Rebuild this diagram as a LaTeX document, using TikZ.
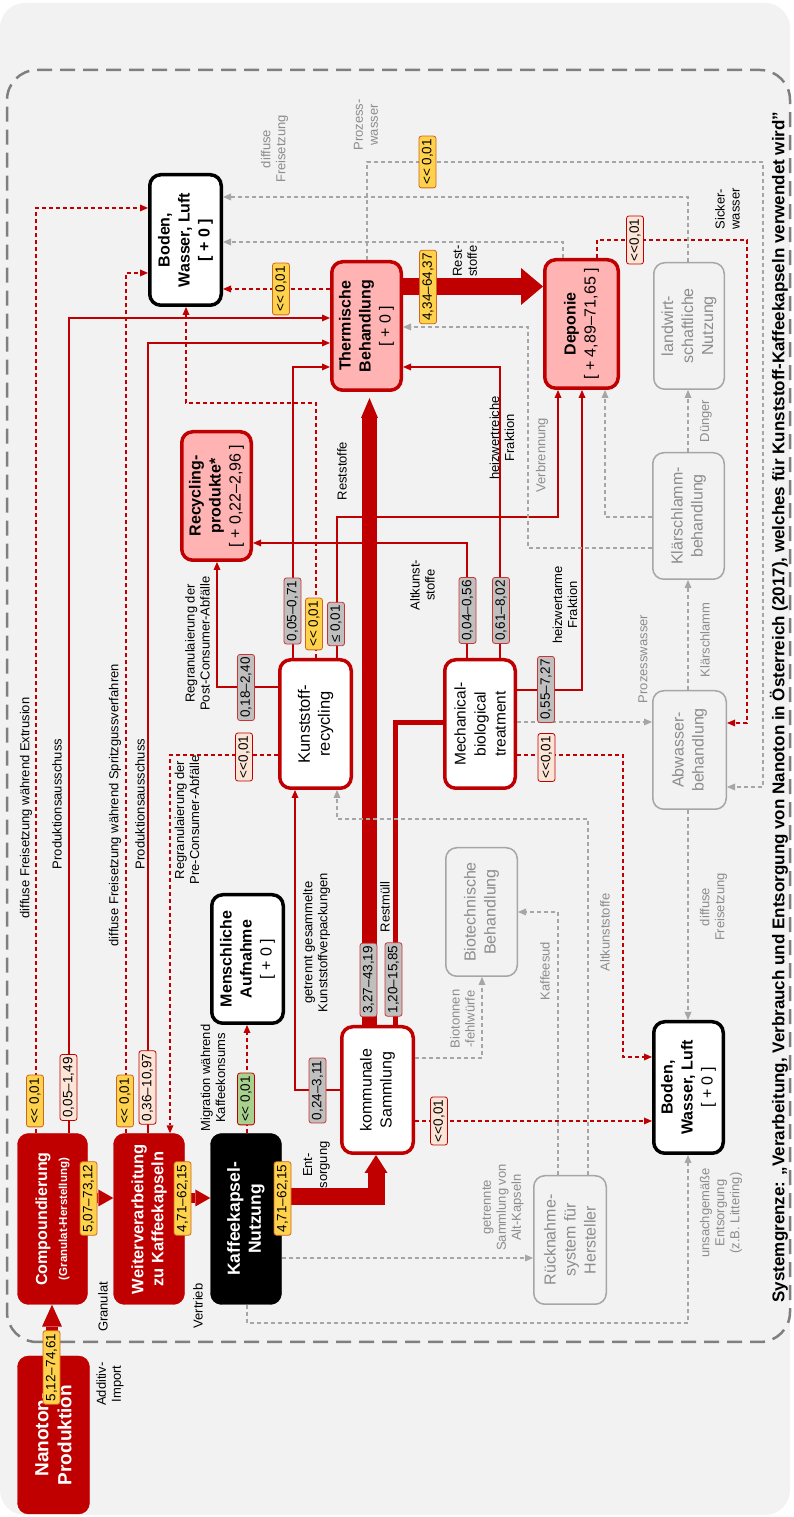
\documentclass[tikz,border=0pt]{standalone}
\usepackage{fontspec}
\setmainfont{Liberation Sans}
\usetikzlibrary{arrows.meta}
\definecolor{dred}{HTML}{C00000}
\definecolor{lpink}{HTML}{FFB3B3}
\definecolor{bgray}{HTML}{F2F2F2}
\definecolor{lgray}{HTML}{A6A6A6}
\definecolor{tgray}{HTML}{8C8C8C}
\definecolor{vyel}{HTML}{FFD24D}
\definecolor{vyelb}{HTML}{D0661E}
\definecolor{vpch}{HTML}{FCE4D6}
\definecolor{vgry}{HTML}{BFBFBF}
\definecolor{vgrn}{HTML}{A9D18E}
\definecolor{bnd}{HTML}{7F7F7F}
\begin{document}
\begin{tikzpicture}[x=1pt, y=-1pt, rotate=90, transform shape,
    box/.style={rounded corners=11pt, align=center, inner sep=2pt, font=\bfseries\fontsize{16}{20}\selectfont},
    redbox/.style={box, fill=dred, draw=dred, text=white},
    pinkbox/.style={box, fill=lpink, draw=dred, line width=3.5pt},
    whitebox/.style={box, fill=white, draw=dred, line width=3.5pt, font=\fontsize{16}{20}\selectfont},
    envbox/.style={box, fill=white, draw=black, line width=3.5pt},
    graybox/.style={box, draw=lgray, line width=1.5pt, text=tgray, font=\fontsize{16}{20}\selectfont},
    val/.style={rounded corners=2.5pt, inner xsep=3pt, inner ysep=1pt, minimum height=17pt, line width=0.8pt, font=\fontsize{13.5}{14}\selectfont},
    yel/.style={val, fill=vyel, draw=vyelb},
    pch/.style={val, fill=vpch, draw=dred},
    gry/.style={val, fill=vgry, draw=dred!80},
    grn/.style={val, fill=vgrn, draw=dred},
    ann/.style={align=center, font=\fontsize{13}{15}\selectfont},
    gann/.style={ann, text=tgray},
    rline/.style={draw=dred, line width=1.5pt, -{Triangle[length=8pt,width=7pt,line width=0pt]}},
    rdash/.style={rline, dash pattern=on 4pt off 3pt},
    gdash/.style={draw=lgray, line width=1.3pt, dash pattern=on 4pt off 3pt, -{Triangle[length=8pt,width=7pt,line width=0pt]}},
    flow/.style={draw=dred, line cap=butt}
  ]
  \useasboundingbox (0,0) rectangle (1517,793);
  \fill[bgray, rounded corners=25pt] (2,0) rectangle (1514,790);
  \draw[bnd, line width=2.5pt, dash pattern=on 15pt off 8pt, rounded corners=30pt] (175,7) rectangle (1447,790);

  \node[redbox, minimum width=158, minimum height=72, font=\bfseries\fontsize{19}{23}\selectfont] (NP) at (82,53.5) {Nanoton-\\Produktion};
  \node[redbox, minimum width=171, minimum height=70] (CP) at (298,52.5) {Compoundierung\\{\fontsize{11.5}{14}\selectfont (Granulat-Herstellung)}};
  \node[redbox, minimum width=171, minimum height=71, font=\bfseries\fontsize{16.5}{20}\selectfont] (WV) at (298,149) {Weiterverarbeitung\\zu Kaffeekapseln};
  \node[redbox, fill=black, draw=black, minimum width=171, minimum height=71, font=\bfseries\fontsize{17.5}{21}\selectfont] (KN) at (298,246) {Kaffeekapsel-\\Nutzung};
  \node[envbox, minimum width=128.5, minimum height=71.5] (MA) at (558,247.5) {Menschliche\\Aufnahme\\{\mdseries [ + 0 ]}};
  \node[whitebox, minimum width=126.5, minimum height=71.5] (KS) at (427,377.5) {kommunale\\Sammlung};
  \node[whitebox, minimum width=128.5, minimum height=71.5, font=\fontsize{16.5}{20}\selectfont] (KR) at (793,315.5) {Kunststoff-\\recycling};
  \node[whitebox, minimum width=128.5, minimum height=70.5, font=\fontsize{15.5}{20}\selectfont] (MB) at (793,480) {Mechanical-\\biological\\treatment};
  \node[pinkbox, minimum width=128.5, minimum height=69.5] (RP) at (1021,216.5) {Recycling-\\produkte*\\{\mdseries [ + 0,22–2,96 ]}};
  \node[pinkbox, minimum width=128.5, minimum height=69.5] (TB) at (1191,366.5) {Thermische\\Behandlung\\{\mdseries [ + 0 ]}};
  \node[pinkbox, minimum width=128.5, minimum height=73.5] (DP) at (1193,581.5) {Deponie\\{\mdseries [ + 4,89–71,65 ]}};
  \node[envbox, minimum width=130.5, minimum height=71.5] (BO) at (1277,185.5) {Boden,\\Wasser, Luft\\{[ + 0 ]}};
  \node[envbox, minimum width=131.5, minimum height=69.5] (BU) at (429.5,688.5) {Boden,\\Wasser, Luft\\{\mdseries [ + 0 ]}};
  \node[graybox, minimum width=128.5, minimum height=71.5] (BT) at (605,481.5) {Biotechnische\\Behandlung};
  \node[graybox, minimum width=128.5, minimum height=72.5] (RS) at (277,570) {Rücknahme-\\system für\\Hersteller};
  \node[graybox, minimum width=118.5, minimum height=73.5] (AW) at (767,689.5) {Abwasser-\\behandlung};
  \node[graybox, minimum width=126.5, minimum height=71.5] (KB) at (1001,688.5) {Klärschlamm-\\behandlung};
  \node[graybox, minimum width=126.5, minimum height=70.5] (LN) at (1191,689) {landwirt-\\schaftliche\\Nutzung};

  \draw[flow, line width=12pt, -{Triangle[length=22pt,width=20pt,line width=0pt]}] (NP.east |- 0,52) -- (CP.west |- 0,52);
  \draw[flow, line width=10pt, -{Triangle[length=15pt,width=17pt,line width=0pt]}] (319,0 |- CP.south) -- (319,0 |- WV.north);
  \draw[flow, line width=10pt, -{Triangle[length=15pt,width=17pt,line width=0pt]}] (319,0 |- WV.south) -- (319,0 |- KN.north);
  \draw[flow, line width=17pt, -{Triangle[length=18pt,width=23pt,line width=0pt]}] (320,0 |- KN.south) |- (KS.west |- 0,376);
  \draw[flow, line width=15pt, shorten >=6pt, -{Triangle[length=20pt,width=17pt,line width=0pt]}] (KS.east |- 0,369.5) -- (TB.west |- 0,369.5);
  \draw[flow, line width=17pt, -{Triangle[length=22pt,width=37pt,line width=0pt]}] (1230.5,0 |- TB.south) -- (1230.5,0 |- DP.north);
  \draw[flow, line width=5pt] (KS.east |- 0,395) -| (794,0 |- MB.north);

  \draw[rline] (CP.east |- 0,69) -| (1199,0 |- TB.north);
  \draw[rline, line width=2.5pt] (WV.east |- 0,148) -| (1174,0 |- TB.north);
  \draw[rline, line width=2pt] (427,0 |- KS.north) |- (KR.west |- 0,295);
  \draw[rline] (830,0 |- KR.north) |- (RP.west |- 0,217);
  \draw[rline] (KR.east |- 0,293) -| (1150,0 |- TB.north);
  \draw[rline] (KR.east |- 0,337) -| (1000,558) -- (DP.west |- 0,558);
  \draw[rline] (MB.east |- 0,467) -| (974,0 |- RP.south);
  \draw[rline, line width=2pt] (MB.east |- 0,500) -| (1150,0 |- TB.south);
  \draw[rline, line width=2.5pt] (827,0 |- MB.south) |- (DP.west |- 0,582);

  \draw[rdash] (CP.east |- 0,36) -| (1309,0 |- BO.north);
  \draw[rdash] (WV.east |- 0,126) -| (1244,0 |- BO.north);
  \draw[rdash] (762,0 |- KR.north) |- (WV.east |- 0,170);
  \draw[rdash] (KR.east |- 0,316) -| (1114,186) -- (BO.west |- 0,186);
  \draw[rdash] (KN.east |- 0,247) -- (MA.west |- 0,247);
  \draw[rdash] (762,0 |- MB.south) |- (460,623) -- (460,0 |- BU.north);
  \draw[rdash] (396,0 |- KS.south) -- (396,0 |- BU.north);
  \draw[rdash] (1228,0 |- TB.north) -- (1228,0 |- BO.south);
  \draw[rdash] (DP.east |- 0,597) -| (1277,747) -| (794,0 |- AW.south);

  \draw[gdash] (LN.east |- 0,688) -| (1320,0 |- BO.south);
  \draw[gdash] (DP.east |- 0,563) -| (1275,0 |- BO.south);
  \draw[gdash] (TB.east |- 0,367) -| (1355,763) -| (730,0 |- AW.south);
  \draw[gdash] (969,0 |- KB.north) |- (1190,528) -- (1190,0 |- TB.south);
  \draw[gdash] (1000,0 |- KB.north) |- (DP.west |- 0,605);
  \draw[gdash] (KB.east |- 0,688) -- (LN.west |- 0,688);
  \draw[gdash] (AW.east |- 0,688) -- (KB.west |- 0,688);
  \draw[gdash] (795,0 |- MB.south) -- (795,0 |- AW.north);
  \draw[gdash] (AW.west |- 0,688) -- (BU.east |- 0,688);
  \draw[gdash] (259,0 |- KN.south) -- (259,0 |- RS.north);
  \draw[gdash] (KN.west |- 0,247) -- (194,247) |- (BU.west |- 0,688);
  \draw[gdash] (RS.east |- 0,558) -| (605,0 |- BT.south);
  \draw[gdash] (RS.east |- 0,588) -| (698,337) -- (KR.west |- 0,337);
  \draw[gdash] (459,0 |- KS.south) |- (BT.west |- 0,482);

  \node[yel] (q1) at (149.5,51.5) {5,12–74,61};
  \node[yel] (q2) at (318.5,88.5) {5,07–73,12};
  \node[yel] (q3) at (318.5,182.5) {4,71–62,15};
  \node[yel] (q4) at (318.5,282.5) {4,71–62,15};
  \node[yel] (q5) at (416,35) {<{}< 0,01};
  \node[yel] (q6) at (416,125) {<{}< 0,01};
  \node[yel] (q7) at (893,314) {<{}< 0,01};
  \node[yel] (q8) at (1228,281) {<{}< 0,01};
  \node[yel] (q9) at (1230,428) {4,34–64,37};
  \node[yel] (q10) at (1355,427.5) {<{}< 0,01};
  \node[pch] (q11) at (429.5,68.5) {0,05–1,49};
  \node[pch] (q12) at (429.5,147.5) {0,36–10,97};
  \node[pch] (q13) at (760,244) {<{}<0,01};
  \node[pch] (q14) at (759.5,546.5) {<{}<0,01};
  \node[pch] (q15) at (396,439) {<{}<0,01};
  \node[pch] (q16) at (1277,635) {<{}<0,01};
  \node[gry] (q17) at (426.5,317.5) {0,24–3,11};
  \node[gry] (q18) at (537,368.5) {3,27–43,19};
  \node[gry] (q19) at (537.5,393.5) {1,20–15,85};
  \node[gry] (q20) at (829.5,246) {0,18–2,40};
  \node[gry] (q21) at (906,292.5) {0,05–0,71};
  \node[gry] (q22) at (893,336) {≤ 0,01};
  \node[gry] (q23) at (906.5,467.5) {0,04–0,56};
  \node[gry] (q24) at (906.5,501) {0,61–8,02};
  \node[gry] (q25) at (827.5,546) {0,55–7,27};
  \node[grn] (q26) at (418,246) {<{}< 0,01};

  \node[ann] (t1) at (133,110) {Additiv-\\Import};
  \node[ann] (t2) at (210,103) {Granulat};
  \node[ann] (t3) at (211,198) {Vertrieb};
  \node[ann] (t4) at (352,316.5) {Ent-\\sorgung};
  \node[ann] (t5) at (439,213) {Migration während\\Kaffeekonsums};
  \node[ann, anchor=west] (t6) at (595,26) {diffuse Freisetzung während Extrusion};
  \node[ann] (t7) at (713,57) {Produktionsausschuss};
  \node[ann, anchor=west] (t8) at (567,115) {diffuse Freisetzung während Spritzgussverfahren};
  \node[ann] (t9) at (713,140) {Produktionsausschuss};
  \node[ann] (t10) at (697,187) {Regranulaierung der\\Pre-Consumer-Abfälle};
  \node[ann] (t11) at (574.5,316.5) {getrennt gesammelte\\Kunststoffverpackungen};
  \node[ann] (t12) at (610,385) {Restmüll};
  \node[ann] (t13) at (873.5,197.5) {Regranulaierung der\\Post-Consumer-Abfälle};
  \node[ann] (t14) at (1046,342) {Reststoffe};
  \node[ann] (t15) at (932,422.5) {Altkunst-\\stoffe};
  \node[ann] (t16) at (1079,502) {heizwertreiche\\Fraktion};
  \node[ann] (t17) at (912,565) {heizwertarme\\Fraktion};
  \node[ann] (t18) at (1256,465) {Rest-\\stoffe};
  \node[ann] (t19) at (1308,727.5) {Sicker-\\wasser};
  \node[gann] (t20) at (1368,274.5) {diffuse\\Freisetzung};
  \node[gann] (t21) at (1392,366) {Prozess-\\wasser};
  \node[gann] (t22) at (1062,542) {Verbrennung};
  \node[gann] (t23) at (1096,706) {Dünger};
  \node[gann] (t24) at (877,705) {Klärschlamm};
  \node[gann] (t25) at (858,643) {Prozesswasser};
  \node[gann] (t26) at (610,713.5) {diffuse\\Freisetzung};
  \node[gann] (t27) at (309.5,503) {getrennte\\Sammlung von\\Alt-Kapseln};
  \node[gann] (t28) at (304,721) {unsachgemäße\\Entsorgung\\(z.B. Littering)};
  \node[gann] (t29) at (546,545) {Kaffeesud};
  \node[gann] (t30) at (584.5,605) {Altkunststoffe};
  \node[gann] (t31) at (498,462.5) {Biotonnen\\-fehlwürfe};

  \node[font=\bfseries\fontsize{17}{20}\selectfont] (SG) at (810,779) {Systemgrenze: „Verarbeitung, Verbrauch und Entsorgung von Nanoton in Österreich (2017), welches für Kunststoff-Kaffeekapseln verwendet wird”};
\end{tikzpicture}
\end{document}
